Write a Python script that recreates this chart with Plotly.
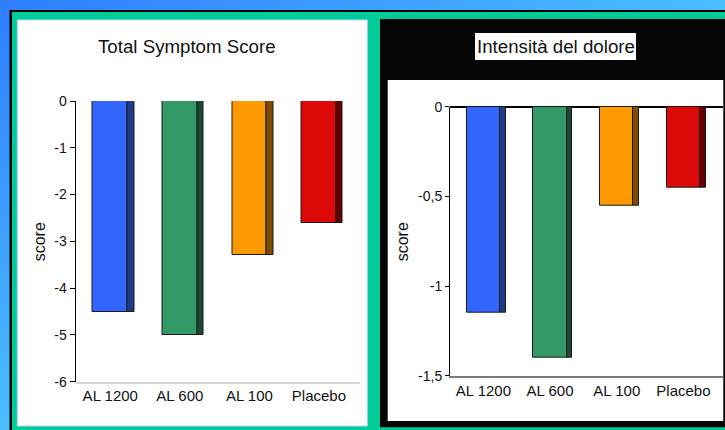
import base64
import plotly.graph_objects as go

# ---------------- data ----------------
categories = ["AL 1200", "AL 600", "AL 100", "Placebo"]
tss_scores = [-4.5, -5.0, -3.3, -2.6]
pain_scores = [-1.15, -1.4, -0.55, -0.45]

left_title = "Total Symptom Score"
right_title = "Intensità del dolore"
y_label = "score"

left_ytick_vals = [0, -1, -2, -3, -4, -5, -6]
left_ytick_text = ["0", "-1", "-2", "-3", "-4", "-5", "-6"]
right_ytick_vals = [0, -0.5, -1, -1.5]
right_ytick_text = ["0", "-0,5", "-1", "-1,5"]

face_colors = ["#3366ff", "#339966", "#ff9900", "#dd0808"]
side_colors = ["#1f3a86", "#1b4a31", "#7f4c00", "#660000"]

# ---------------- helpers ----------------
W, H = 725, 430
FONT = "Liberation Sans, Arial, sans-serif"


def px(x):
    return x / W


def py(y):
    return 1 - y / H


def rect(x0, y0, x1, y1, fill, line=None, lw=0):
    return dict(type="rect", xref="paper", yref="paper", layer="below",
                x0=px(x0), x1=px(x1), y0=py(y1), y1=py(y0),
                fillcolor=fill,
                line=dict(color=line or fill, width=lw))


svg = (
    '<svg xmlns="http://www.w3.org/2000/svg" width="725" height="430" '
    'preserveAspectRatio="none"><defs><linearGradient id="g" x1="0" y1="0" '
    'x2="1" y2="1"><stop offset="0" stop-color="#2e7dff"/>'
    '<stop offset="1" stop-color="#66ffff"/></linearGradient></defs>'
    '<rect width="725" height="430" fill="url(#g)"/></svg>'
)
svg_uri = "data:image/svg+xml;base64," + base64.b64encode(svg.encode()).decode()

fig = go.Figure()

# left chart bars
fig.add_trace(go.Bar(x=categories, y=tss_scores, width=0.5, offset=-0.25,
                     marker=dict(color=face_colors, line=dict(color="#1a1a1a", width=1)),
                     xaxis="x", yaxis="y", showlegend=False, hoverinfo="x+y"))
fig.add_trace(go.Bar(x=categories, y=tss_scores, width=0.095, offset=0.25,
                     marker=dict(color=side_colors, line=dict(color="#1a1a1a", width=1)),
                     xaxis="x", yaxis="y", showlegend=False, hoverinfo="skip"))
# right chart bars
fig.add_trace(go.Bar(x=categories, y=pain_scores, width=0.5, offset=-0.25,
                     marker=dict(color=face_colors, line=dict(color="#1a1a1a", width=1)),
                     xaxis="x2", yaxis="y2", showlegend=False, hoverinfo="x+y"))
fig.add_trace(go.Bar(x=categories, y=pain_scores, width=0.085, offset=0.25,
                     marker=dict(color=side_colors, line=dict(color="#1a1a1a", width=1)),
                     xaxis="x2", yaxis="y2", showlegend=False, hoverinfo="skip"))

shapes = [
    rect(9.5, 10, 726, 431, "#000000"),
    rect(12, 12, 726, 431, "#00cc99"),
    rect(17.3, 20, 367.3, 426, "#ffffff", line="#b8ccff", lw=1),
    rect(380, 19, 726, 427.3, "#050505"),
    rect(387.7, 80, 723.3, 421, "#ffffff"),
    rect(475, 33, 636, 60, "#ffffff"),
]

annotations = [
    dict(text=left_title, x=px(186.7), y=py(46), xref="paper", yref="paper",
         xanchor="center", yanchor="middle", showarrow=False,
         font=dict(family=FONT, size=18.7, color="#111111")),
    dict(text=right_title, x=px(555.5), y=py(46), xref="paper", yref="paper",
         xanchor="center", yanchor="middle", showarrow=False,
         font=dict(family=FONT, size=18.7, color="#111111")),
    dict(text=y_label, x=px(39.3), y=py(242), xref="paper", yref="paper",
         xanchor="center", yanchor="middle", showarrow=False, textangle=-90,
         font=dict(family=FONT, size=16, color="#111111")),
    dict(text=y_label, x=px(402.3), y=py(242), xref="paper", yref="paper",
         xanchor="center", yanchor="middle", showarrow=False, textangle=-90,
         font=dict(family=FONT, size=16, color="#111111")),
]

xtick_font = dict(family=FONT, size=15, color="#111111")
ytick_font = dict(family=FONT, size=14, color="#111111")

fig.update_layout(
    width=W, height=H,
    margin=dict(l=0, r=0, t=0, b=0, pad=0, autoexpand=False),
    paper_bgcolor="#48baff",
    plot_bgcolor="rgba(0,0,0,0)",
    barmode="overlay",
    bargap=0,
    showlegend=False,
    separators=",.",
    images=[dict(source=svg_uri, xref="paper", yref="paper", x=0, y=1,
                 sizex=1, sizey=1, xanchor="left", yanchor="top",
                 sizing="stretch", layer="below")],
    shapes=shapes,
    annotations=annotations,
    xaxis=dict(domain=[px(75.5), px(360)], range=[-0.5, 3.59], anchor="y",
               showline=True, linecolor="#d8d8d8", linewidth=1.5,
               ticks="", showgrid=False, zeroline=False,
               tickfont=xtick_font, fixedrange=True),
    yaxis=dict(domain=[py(381.7), py(101)], range=[-6, 0], anchor="x",
               showline=True, linecolor="#000000", linewidth=1,
               ticks="outside", ticklen=5, tickcolor="#000000", tickwidth=1,
               tickvals=left_ytick_vals, ticktext=left_ytick_text,
               showgrid=False, zeroline=False, tickfont=ytick_font,
               fixedrange=True),
    xaxis2=dict(domain=[px(450), px(723)], range=[-0.5, 3.593], anchor="y2",
                showline=True, linecolor="#7a7a7a", linewidth=2,
                ticks="", showgrid=False, zeroline=False,
                tickfont=xtick_font, fixedrange=True),
    yaxis2=dict(domain=[py(375.7), py(106.7)], range=[-1.5, 0], anchor="x2",
                showline=True, linecolor="#000000", linewidth=1,
                ticks="outside", ticklen=4, tickcolor="#000000", tickwidth=1,
                tickvals=right_ytick_vals, ticktext=right_ytick_text,
                showgrid=False, zeroline=True, zerolinecolor="#000000",
                zerolinewidth=2, tickfont=ytick_font, fixedrange=True),
)

post = (
    "var h=document.documentElement,b=document.body;"
    "h.style.margin='0';h.style.padding='0';h.style.overflow='hidden';"
    "b.style.margin='0';b.style.padding='0';b.style.overflow='hidden';"
)

fig.write_html("out.html", config={"displayModeBar": False}, post_script=post)
